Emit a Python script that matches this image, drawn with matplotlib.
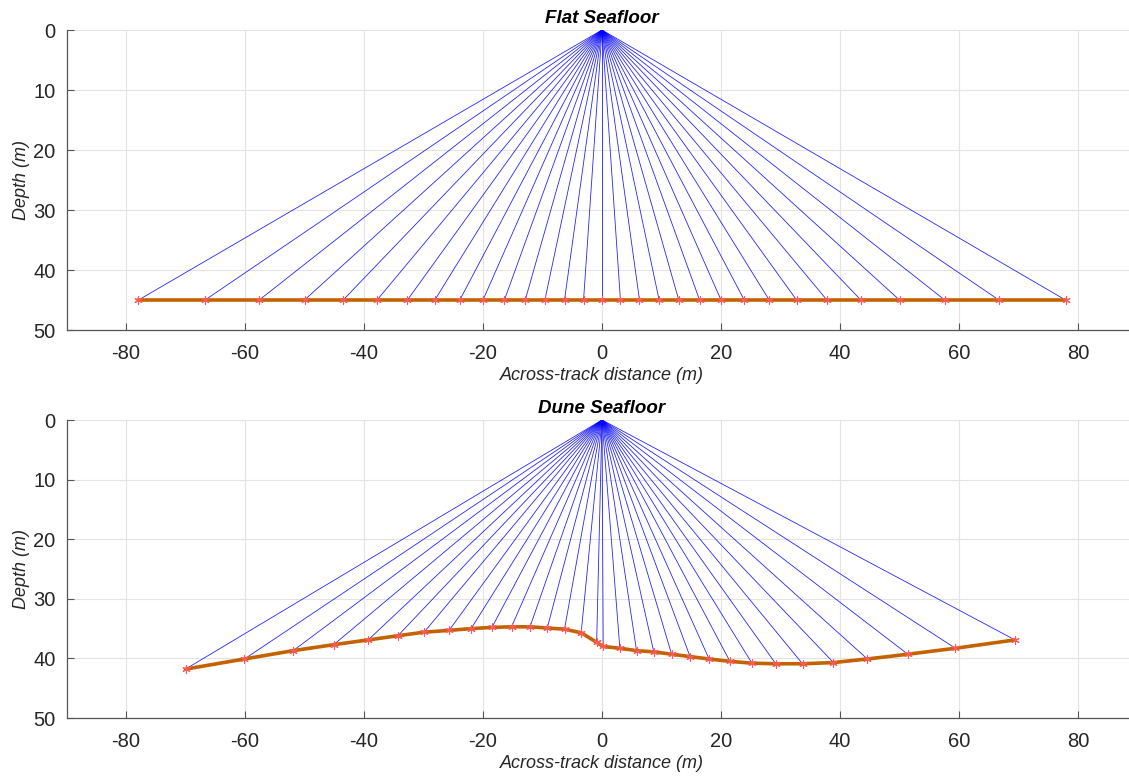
import matplotlib
matplotlib.use("Agg")
import matplotlib.pyplot as plt

# ---- data ----
flat_x = [-77.9, -66.7, -57.6, -50.0, -43.5, -37.8, -32.7, -28.1, -23.9, -20.0,
          -16.4, -12.9, -9.6, -6.3, -3.1, 0.0, 3.1, 6.3, 9.6, 12.9, 16.4, 20.0,
          23.9, 28.1, 32.7, 37.8, 43.5, 50.0, 57.6, 66.7, 77.9]
flat_depth = [45.0] * len(flat_x)

dune_x = [-70.0, -60.1, -51.9, -45.1, -39.3, -34.3, -29.9, -25.7, -22.0, -18.5,
          -15.2, -12.1, -9.2, -6.3, -3.5, -0.9, 0.2, 3.0, 5.8, 8.7, 11.7, 14.8,
          18.0, 21.5, 25.2, 29.2, 33.7, 38.9, 44.6, 51.4, 59.4, 69.4]
dune_depth = [41.8, 40.1, 38.7, 37.7, 36.9, 36.2, 35.6, 35.3, 35.0, 34.8,
              34.7, 34.7, 34.9, 35.1, 35.7, 37.3, 38.0, 38.3, 38.7, 38.9, 39.3, 39.7,
              40.1, 40.5, 40.8, 40.9, 40.9, 40.7, 40.1, 39.3, 38.3, 36.9]

source_x, source_depth = 0.0, 0.0
titles = ["Flat Seafloor", "Dune Seafloor"]
xticks = [-80, -60, -40, -20, 0, 20, 40, 60, 80]
yticks = [0, 10, 20, 30, 40, 50]

plt.rcParams['font.family'] = ['Liberation Sans', 'DejaVu Sans']

fig = plt.figure(figsize=(11.29, 7.76), dpi=100)
W, H = 1129, 776

def px_axes(left, top, right, bottom):
    return fig.add_axes([left / W, 1 - bottom / H, (right - left) / W, (bottom - top) / H])

ax1 = px_axes(66.5, 30, 1137.5, 330)
ax2 = px_axes(66.5, 420, 1137.5, 718)

axis_col = '#555555'
for ax, xs, ds, title in [(ax1, flat_x, flat_depth, titles[0]),
                          (ax2, dune_x, dune_depth, titles[1])]:
    for x, d in zip(xs, ds):
        ax.plot([source_x, x], [source_depth, d], color='#0000FF', lw=0.6,
                alpha=0.85, zorder=2)
    ax.plot(xs, ds, color='#C46200', lw=2.6, zorder=3, solid_capstyle='round')
    ax.plot(xs, ds, linestyle='none', marker=(6, 2, 0), markersize=6,
            color='#FF5A5A', markeredgewidth=0.8, zorder=4)
    ax.set_xlim(-90, 90)
    ax.set_ylim(50, 0)
    ax.set_xticks(xticks)
    ax.set_yticks(yticks)
    ax.set_xticklabels([str(t) for t in xticks])
    ax.set_yticklabels([str(t) for t in yticks])
    ax.grid(True, color='#E3E3E3', lw=0.8)
    ax.set_axisbelow(True)
    ax.spines['top'].set_visible(False)
    ax.spines['right'].set_visible(False)
    for s in ['left', 'bottom']:
        ax.spines[s].set_color(axis_col)
        ax.spines[s].set_linewidth(0.9)
    ax.tick_params(direction='in', length=5, width=0.8, color=axis_col,
                   labelsize=14.5, labelcolor='#262626')
    ax.tick_params(axis='x', pad=10)
    ax.tick_params(axis='y', pad=8)
    ax.set_xlabel('Across-track distance (m)', fontsize=13, style='italic',
                  color='#262626', labelpad=3)
    ax.set_ylabel('Depth (m)', fontsize=13, style='italic', color='#262626', labelpad=2)
    ax.set_title(title, fontsize=13.5, fontweight='bold', style='italic', pad=5)

fig.savefig('out.png', dpi=100)
